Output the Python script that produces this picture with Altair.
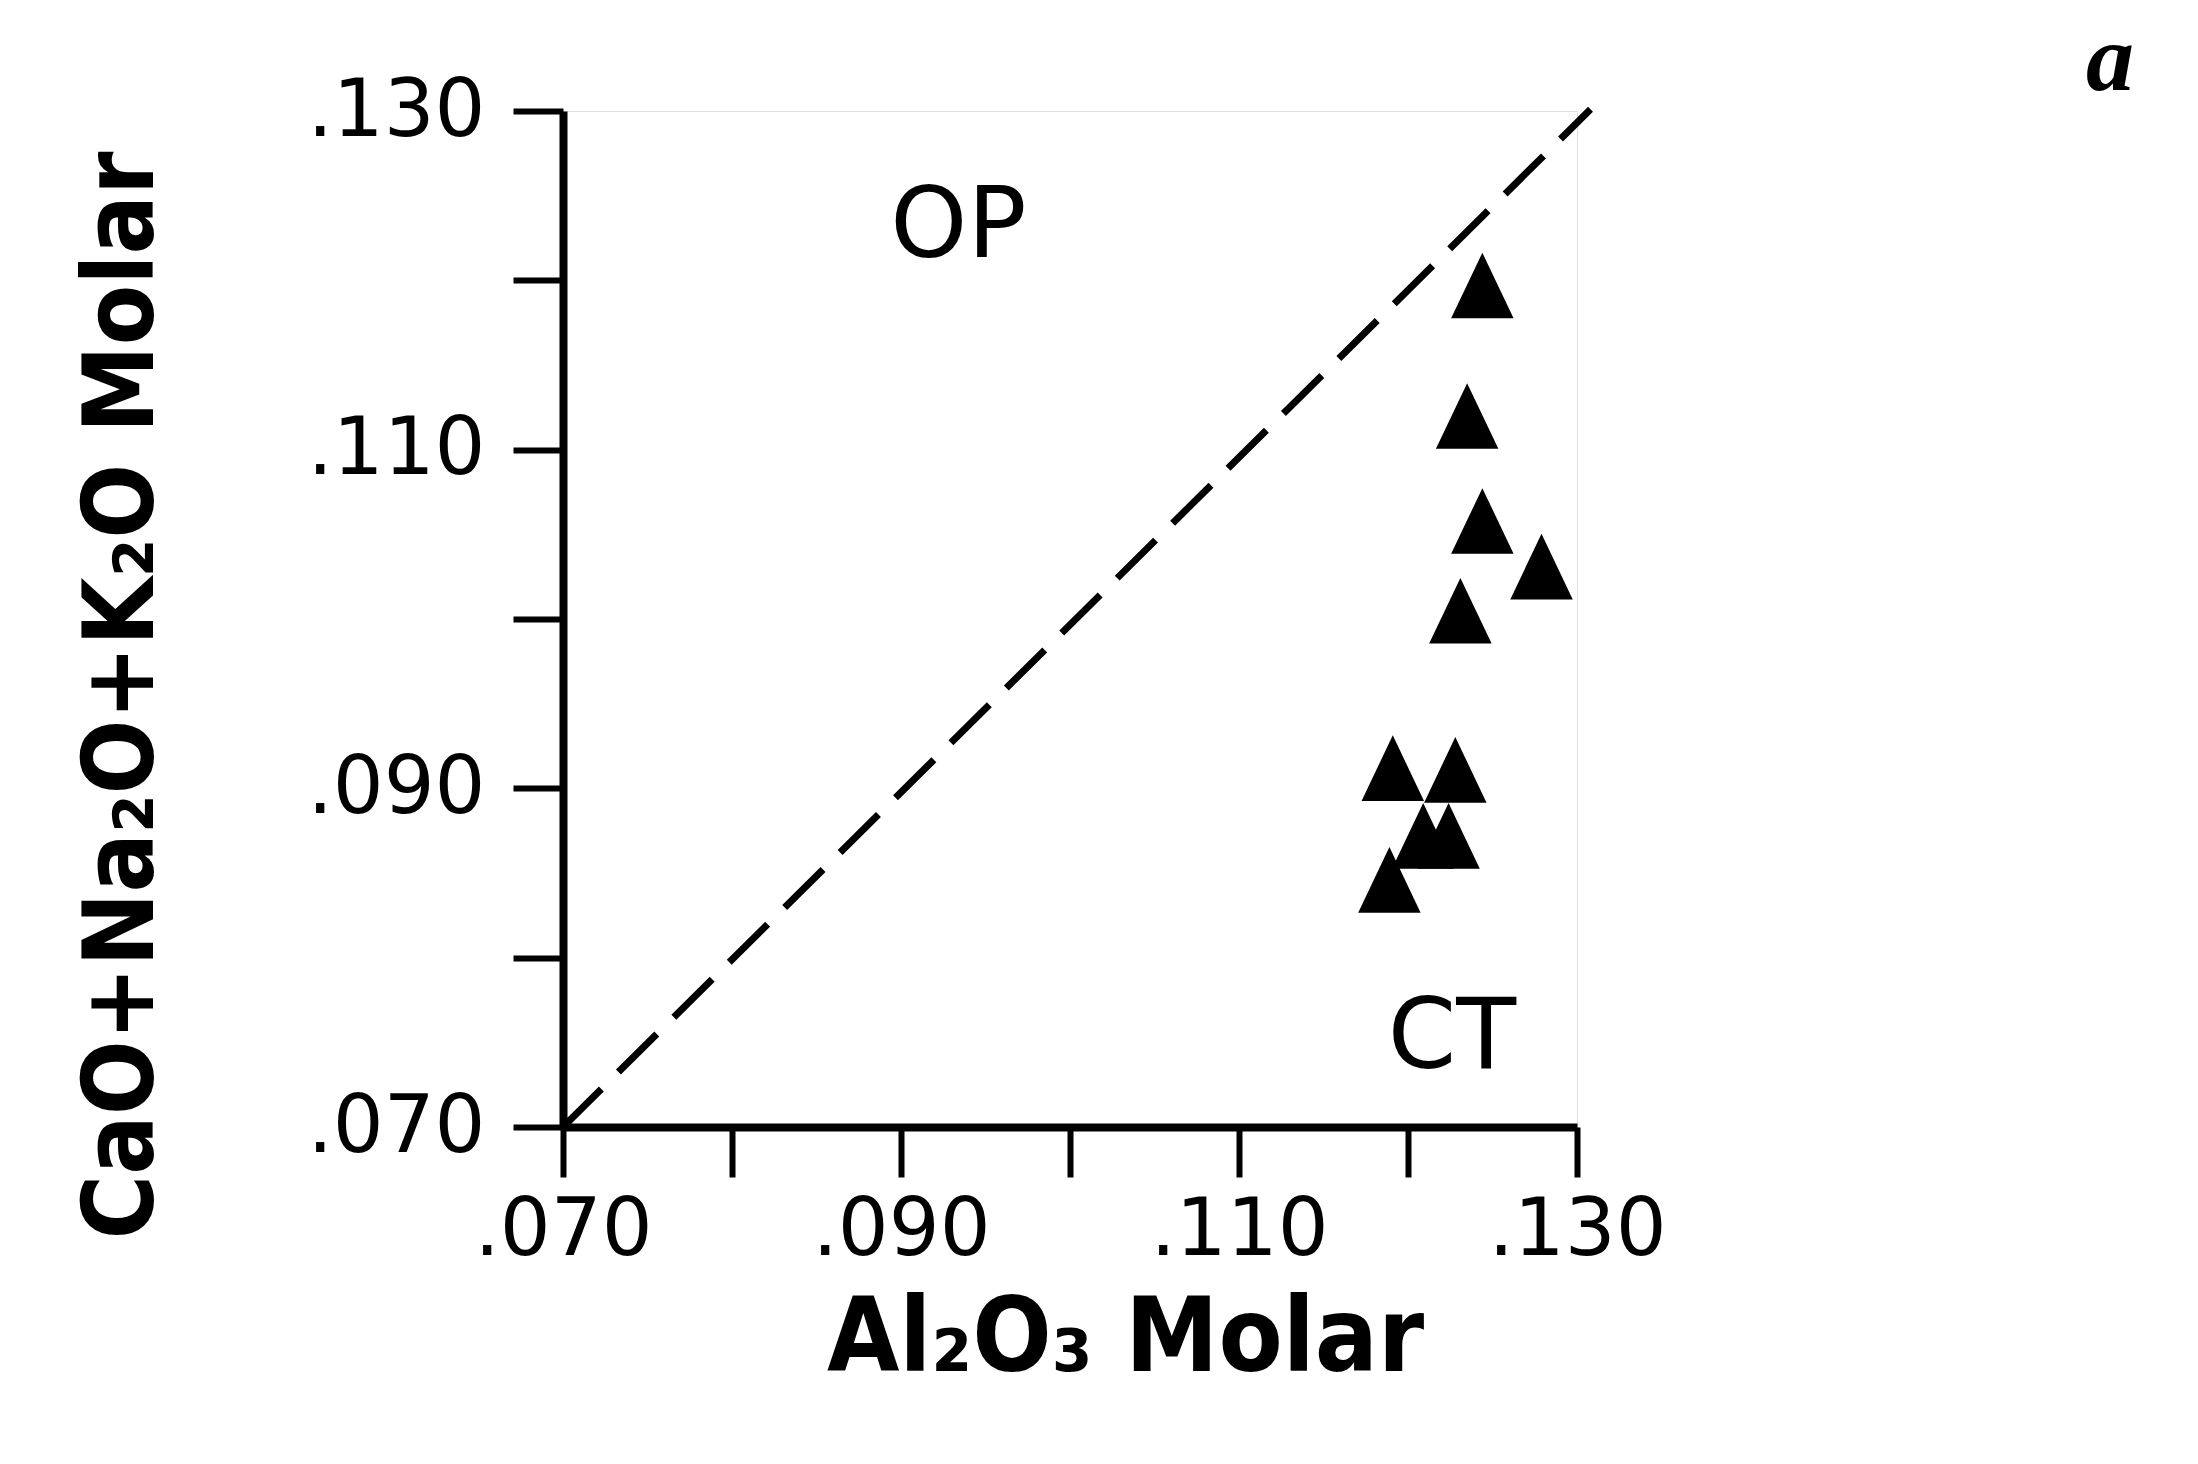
import altair as alt
import pandas as pd

# Data
al2o3 = [0.1244, 0.1235, 0.1244, 0.1279, 0.1231, 0.1191, 0.1228, 0.1209, 0.1224, 0.1189]
alkali = [0.1196, 0.1119, 0.1057, 0.1030, 0.1004, 0.0911, 0.0910, 0.0871, 0.0871, 0.0845]
line_x = [0.070, 0.1308]
line_y = [0.070, 0.1301]
tick_values = [0.07, 0.08, 0.09, 0.10, 0.11, 0.12, 0.13]
region_labels = ["OP", "CT"]
region_x = [0.0934, 0.1226]
region_y = [0.1231, 0.0752]
panel_letter = ["a"]

pts = pd.DataFrame({"x": al2o3, "y": alkali})
ln = pd.DataFrame({"x": line_x, "y": line_y})
reg = pd.DataFrame({"label": region_labels, "x": region_x, "y": region_y})
letter = pd.DataFrame({"t": panel_letter})

label_expr = "round(datum.value*1000) % 20 == 10 ? replace(format(datum.value, '.3f'), '0.', '.') : ''"

common_axis = dict(
    values=tick_values,
    labelExpr=label_expr,
    labelFlush=False,
    labelOverlap=False,
    grid=False,
    tickSize=50,
    tickWidth=6,
    domainWidth=8,
    tickColor="black",
    domainColor="black",
    labelColor="black",
    labelFont="DejaVu Sans",
    labelFontSize=80,
    titleFont="DejaVu Sans Condensed, DejaVu Sans",
    titleFontWeight="bold",
    titleColor="black",
)

xscale = alt.Scale(domain=[0.07, 0.13], nice=False, zero=False)
yscale = alt.Scale(domain=[0.07, 0.13], nice=False, zero=False)

xaxis = alt.Axis(
    title="Al₂O₃ Molar",
    labelPadding=14,
    titleFontSize=104,
    titleX=562,
    titleY=243,
    titleBaseline="alphabetic",
    titleAlign="center",
    **common_axis,
)
yaxis = alt.Axis(
    title="CaO+Na₂O+K₂O Molar",
    labelPadding=28,
    titleFontSize=98,
    titleX=-440,
    titleY=584,
    titleAngle=270,
    titleBaseline="middle",
    titleAlign="center",
    **common_axis,
)

tri_shape = "M0,-1.1L-1,1L1,1Z"

points = alt.Chart(pts).mark_point(
    shape=tri_shape, filled=True, color="black", size=3900, opacity=1, clip=False
).encode(
    x=alt.X("x:Q", scale=xscale, axis=xaxis),
    y=alt.Y("y:Q", scale=yscale, axis=yaxis),
)

dashed = alt.Chart(ln).mark_line(
    color="black", strokeWidth=7, strokeDash=[54, 24], clip=False
).encode(
    x=alt.X("x:Q", scale=xscale),
    y=alt.Y("y:Q", scale=yscale),
)

regions = alt.Chart(reg).mark_text(
    font="DejaVu Sans", fontSize=98, color="black", baseline="middle", align="center"
).encode(
    x=alt.X("x:Q", scale=xscale),
    y=alt.Y("y:Q", scale=yscale),
    text="label:N",
)

panel = alt.Chart(letter).mark_text(
    font="Liberation Serif", fontStyle="italic", fontWeight="bold", fontSize=96,
    color="black", baseline="middle", align="center", clip=False
).encode(
    x=alt.value(1547),
    y=alt.value(-50),
    text="t:N",
)

chart = alt.layer(dashed, points, regions, panel).properties(
    width=1014,
    height=1016,
    autosize=alt.AutoSizeParams(type="none"),
    padding={"left": 563, "top": 111, "right": 621, "bottom": 337},
).configure_view(stroke="transparent", strokeWidth=0).configure(background="white")

chart.save("out.html", embed_options={"renderer": "svg", "actions": False})
